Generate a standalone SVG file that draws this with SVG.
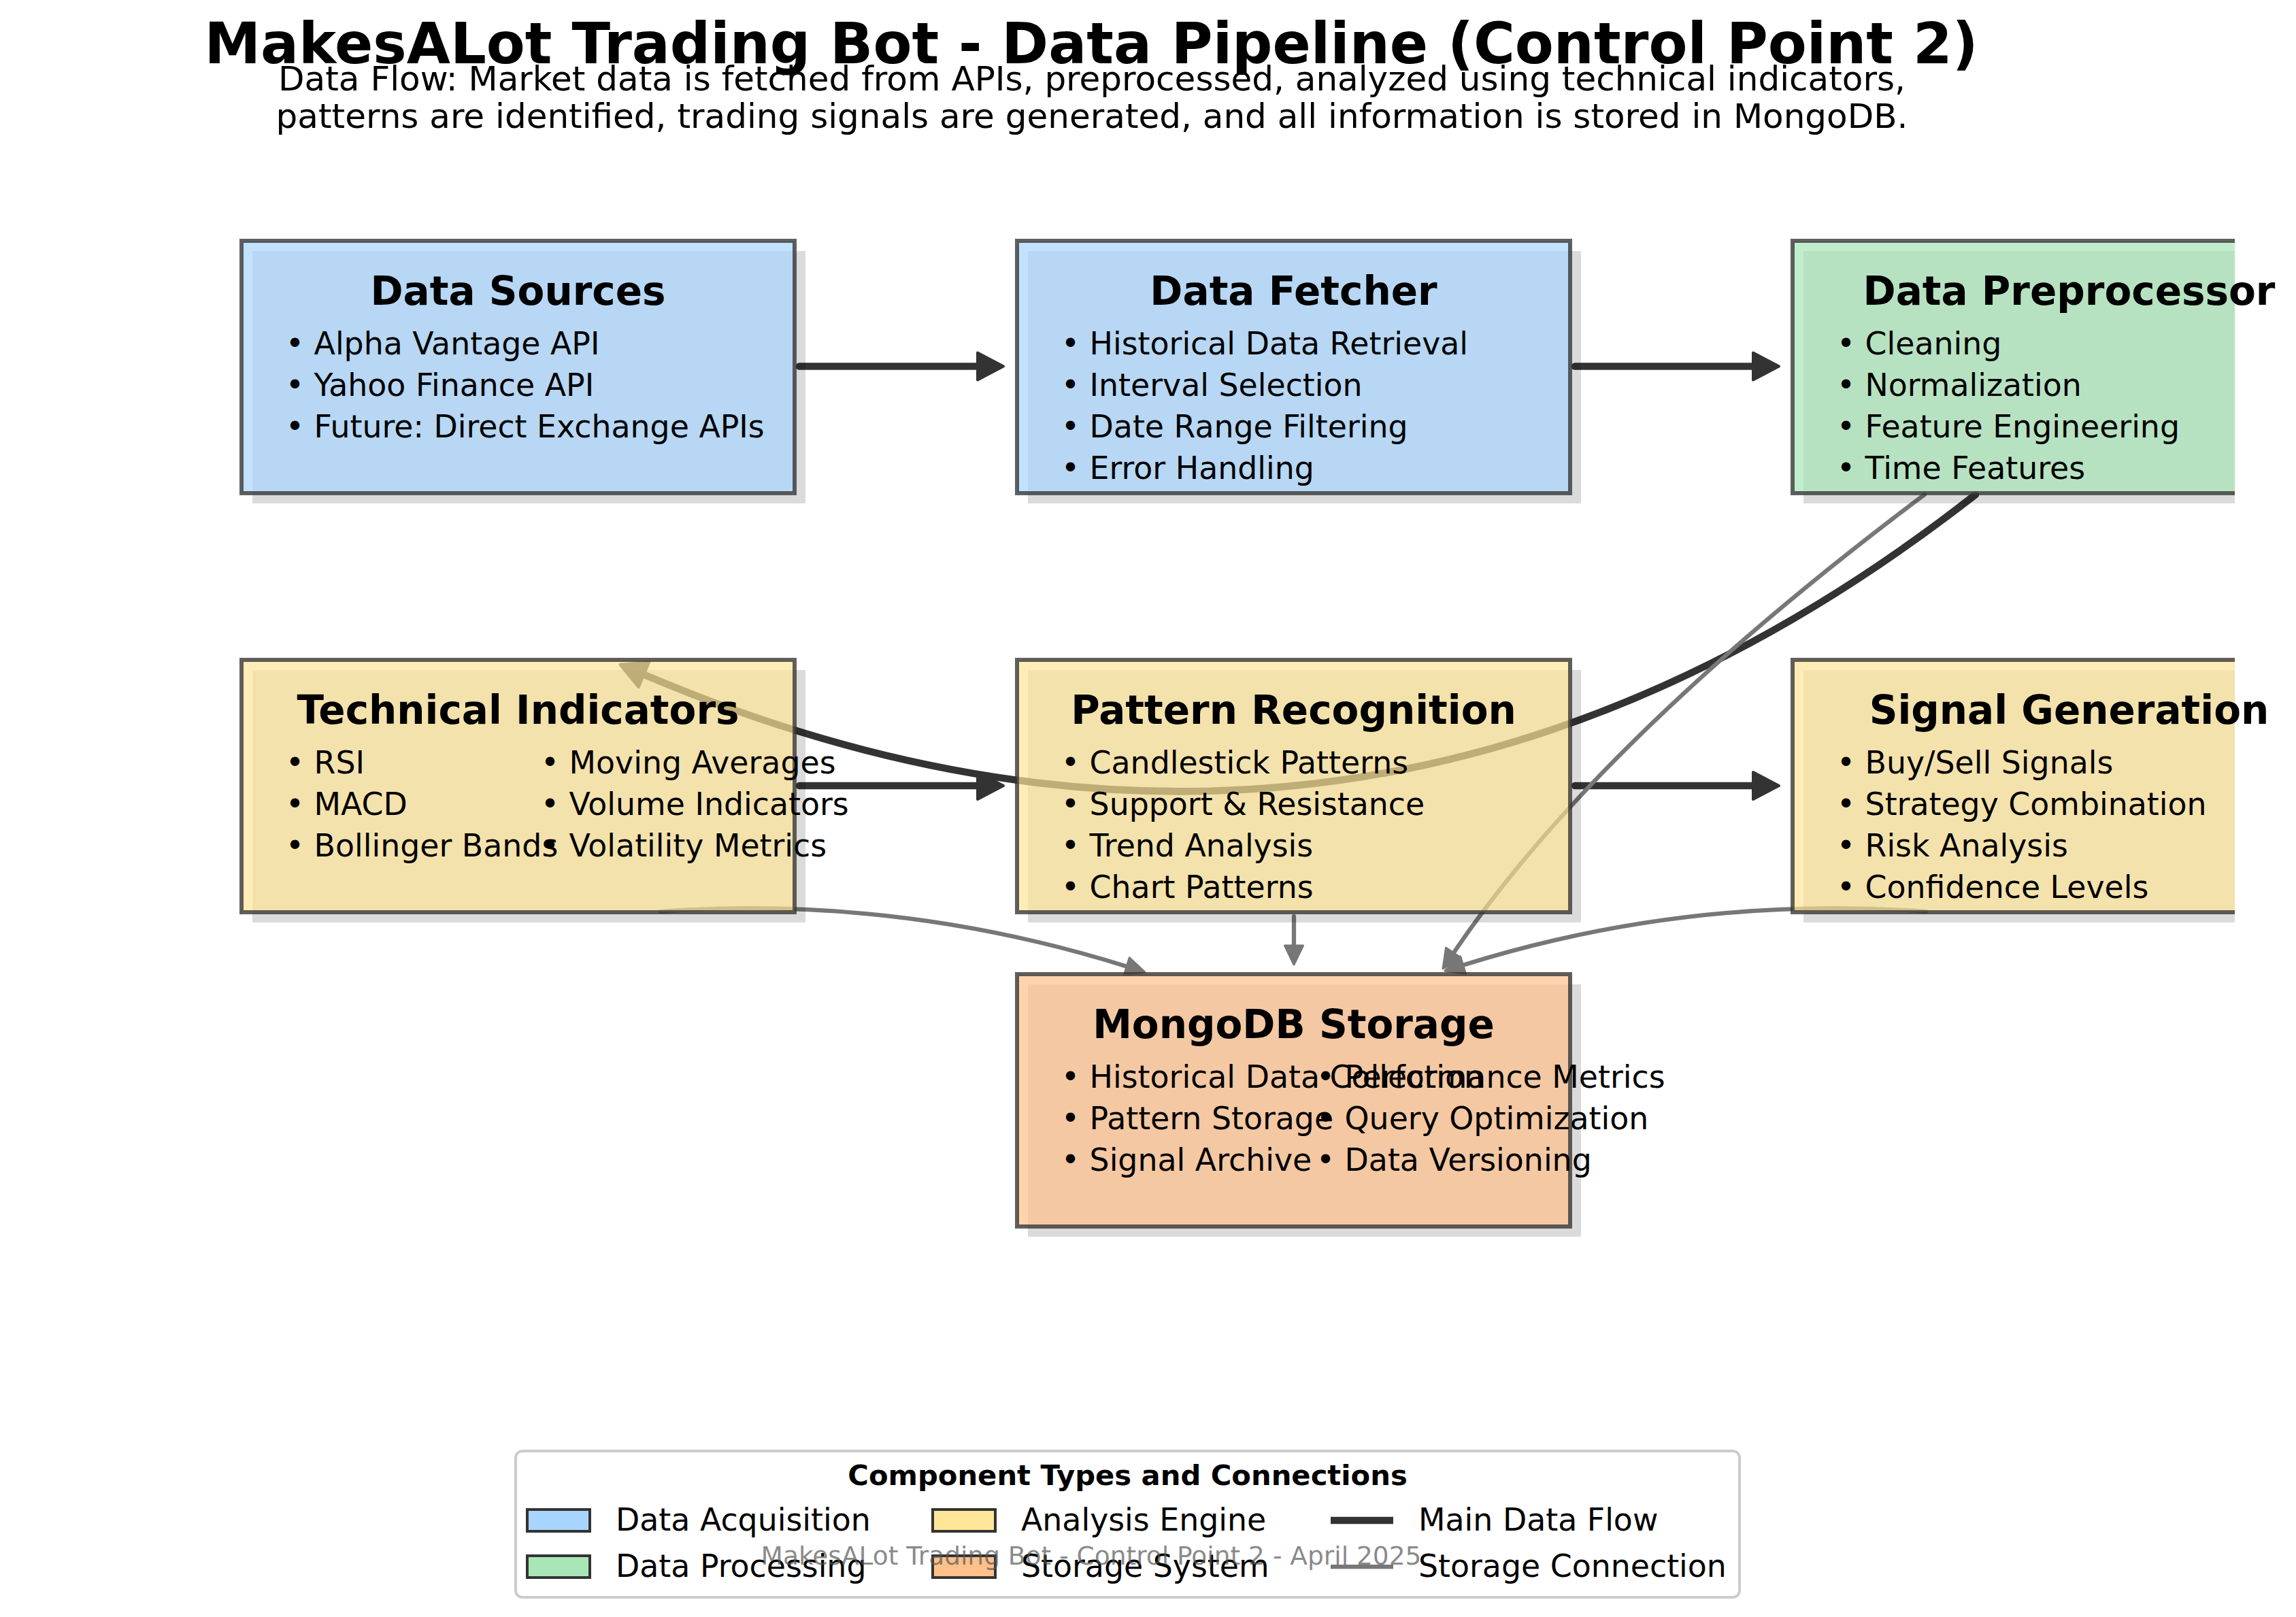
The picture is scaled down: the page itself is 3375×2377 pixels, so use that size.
<svg xmlns="http://www.w3.org/2000/svg" width="3375" height="2377" viewBox="0 0 3375 2377">
<defs>
<style>
text{font-family:"DejaVu Sans","Liberation Sans",sans-serif;fill:#000}
.title{font-size:83px;font-weight:bold;text-anchor:middle}
.sub{font-size:50px;text-anchor:middle}
.ttl{font-size:58px;font-weight:bold;text-anchor:middle}
.item{font-size:45.8px}
.shadow{fill:#000;fill-opacity:0.14}
.box{stroke:#333;stroke-opacity:0.78;stroke-width:6;fill-opacity:0.7}
.acq{fill:#A8D5FF}
.proc{fill:#A8E6B8}
.ana{fill:#FFE699}
.sto{fill:#FFC08A}
.main{stroke:#333;stroke-width:10.5;fill:none;stroke-linecap:round}
.store{stroke:#777;stroke-width:6.25;fill:none;stroke-linecap:round}
.lgt{font-size:41.7px;font-weight:bold;text-anchor:middle}
.lg{font-size:45.8px}
.sw{stroke:#333;stroke-width:4}
.foot{font-size:37.5px;text-anchor:middle;fill:#555;fill-opacity:0.7}
</style>
<marker id="mh" markerUnits="userSpaceOnUse" markerWidth="60" markerHeight="60" viewBox="-5 -30 60 60" refX="0" refY="0" orient="auto" overflow="visible">
<path d="M0,-20 L38,0 L0,20 Z" fill="#333" stroke="#333" stroke-width="4" stroke-linejoin="round"/>
</marker>
<marker id="sh" markerUnits="userSpaceOnUse" markerWidth="50" markerHeight="50" viewBox="-5 -25 50 50" refX="0" refY="0" orient="auto" overflow="visible">
<path d="M0,-13.5 L28,0 L0,13.5 Z" fill="#777" stroke="#777" stroke-width="3" stroke-linejoin="round"/>
</marker>
<clipPath id="axclip"><rect x="0" y="0" width="3285" height="2377"/></clipPath>
</defs>
<rect x="0" y="0" width="3375" height="2377" fill="#fff"/>

<text class="title" x="1604" y="93">MakesALot Trading Bot - Data Pipeline (Control Point 2)</text>
<text class="sub" x="1605" y="133">Data Flow: Market data is fetched from APIs, preprocessed, analyzed using technical indicators,</text>
<text class="sub" x="1605" y="188">patterns are identified, trading signals are generated, and all information is stored in MongoDB.</text>

<g id="connectors">
<path class="main" d="M1175,538.5 L1437,538.5" marker-end="url(#mh)"/>
<path class="main" d="M2315,538.5 L2577,538.5" marker-end="url(#mh)"/>
<path class="main" d="M2904,727 Q1996.6,1437 946.5,991.7" marker-end="url(#mh)"/>
<path class="main" d="M1175,1155 L1437,1155" marker-end="url(#mh)"/>
<path class="main" d="M2315,1155 L2577,1155" marker-end="url(#mh)"/>
<path class="store" d="M971,1340 Q1319.1,1315.1 1656.2,1420.7" marker-end="url(#sh)"/>
<path class="store" d="M1902,1347 L1902,1390" marker-end="url(#sh)"/>
<path class="store" d="M2829,727 Q2348.4,1087.4 2136.7,1400.7" marker-end="url(#sh)"/>
<path class="store" d="M2831,1340 Q2483,1315.1 2150.6,1418.8" marker-end="url(#sh)"/>
</g>

<g id="data-sources">
<rect class="shadow" x="371" y="369" width="813" height="371"/>
<rect class="box acq" x="355" y="354" width="813" height="371"/>
<text class="ttl" x="761.5" y="448">Data Sources</text>
<text class="item" x="420" y="521">• Alpha Vantage API</text>
<text class="item" x="420" y="582">• Yahoo Finance API</text>
<text class="item" x="420" y="643">• Future: Direct Exchange APIs</text>
</g>

<g id="data-fetcher">
<rect class="shadow" x="1511" y="369" width="813" height="371"/>
<rect class="box acq" x="1495" y="354" width="813" height="371"/>
<text class="ttl" x="1901.5" y="448">Data Fetcher</text>
<text class="item" x="1560" y="521">• Historical Data Retrieval</text>
<text class="item" x="1560" y="582">• Interval Selection</text>
<text class="item" x="1560" y="643">• Date Range Filtering</text>
<text class="item" x="1560" y="704">• Error Handling</text>
</g>

<g id="data-preprocessor">
<g clip-path="url(#axclip)">
<rect class="shadow" x="2651" y="369" width="813" height="371"/>
<rect class="box proc" x="2635" y="354" width="813" height="371"/>
</g>
<text class="ttl" x="3041.5" y="448">Data Preprocessor</text>
<text class="item" x="2700" y="521">• Cleaning</text>
<text class="item" x="2700" y="582">• Normalization</text>
<text class="item" x="2700" y="643">• Feature Engineering</text>
<text class="item" x="2700" y="704">• Time Features</text>
</g>

<g id="technical-indicators">
<rect class="shadow" x="371" y="985" width="813" height="371"/>
<rect class="box ana" x="355" y="970" width="813" height="371"/>
<text class="ttl" x="761.5" y="1064">Technical Indicators</text>
<text class="item" x="420" y="1137">• RSI</text>
<text class="item" x="420" y="1198">• MACD</text>
<text class="item" x="420" y="1259">• Bollinger Bands</text>
<text class="item" x="795" y="1137">• Moving Averages</text>
<text class="item" x="795" y="1198">• Volume Indicators</text>
<text class="item" x="795" y="1259">• Volatility Metrics</text>
</g>

<g id="pattern-recognition">
<rect class="shadow" x="1511" y="985" width="813" height="371"/>
<rect class="box ana" x="1495" y="970" width="813" height="371"/>
<text class="ttl" x="1901.5" y="1064">Pattern Recognition</text>
<text class="item" x="1560" y="1137">• Candlestick Patterns</text>
<text class="item" x="1560" y="1198">• Support &amp; Resistance</text>
<text class="item" x="1560" y="1259">• Trend Analysis</text>
<text class="item" x="1560" y="1320">• Chart Patterns</text>
</g>

<g id="signal-generation">
<g clip-path="url(#axclip)">
<rect class="shadow" x="2651" y="985" width="813" height="371"/>
<rect class="box ana" x="2635" y="970" width="813" height="371"/>
</g>
<text class="ttl" x="3041.5" y="1064">Signal Generation</text>
<text class="item" x="2700" y="1137">• Buy/Sell Signals</text>
<text class="item" x="2700" y="1198">• Strategy Combination</text>
<text class="item" x="2700" y="1259">• Risk Analysis</text>
<text class="item" x="2700" y="1320">• Confidence Levels</text>
</g>

<g id="mongodb-storage">
<rect class="shadow" x="1511" y="1447" width="813" height="371"/>
<rect class="box sto" x="1495" y="1432" width="813" height="371"/>
<text class="ttl" x="1901.5" y="1526">MongoDB Storage</text>
<text class="item" x="1560" y="1599">• Historical Data Collection</text>
<text class="item" x="1560" y="1660">• Pattern Storage</text>
<text class="item" x="1560" y="1721">• Signal Archive</text>
<text class="item" x="1935" y="1599">• Performance Metrics</text>
<text class="item" x="1935" y="1660">• Query Optimization</text>
<text class="item" x="1935" y="1721">• Data Versioning</text>
</g>

<g id="legend">
<rect x="758" y="2133" width="1799" height="215" rx="10" fill="#fff" fill-opacity="0.8" stroke="#cccccc" stroke-width="4"/>
<text class="lgt" x="1657.5" y="2183">Component Types and Connections</text>
<rect class="sw" x="775" y="2219" width="92" height="32" fill="#A8D5FF"/>
<text class="lg" x="905" y="2250">Data Acquisition</text>
<rect class="sw" x="775" y="2287" width="92" height="32" fill="#A8E6B8"/>
<text class="lg" x="905" y="2318">Data Processing</text>
<rect class="sw" x="1371" y="2219" width="92" height="32" fill="#FFE699"/>
<text class="lg" x="1501" y="2250">Analysis Engine</text>
<rect class="sw" x="1371" y="2287" width="92" height="32" fill="#FFC08A"/>
<text class="lg" x="1501" y="2318">Storage System</text>
<line x1="1956" y1="2235" x2="2048" y2="2235" stroke="#333" stroke-width="10.5"/>
<text class="lg" x="2085" y="2250">Main Data Flow</text>
<line x1="1956" y1="2303" x2="2048" y2="2303" stroke="#777" stroke-width="6.25"/>
<text class="lg" x="2085" y="2318">Storage Connection</text>
</g>

<text class="foot" x="1604" y="2300">MakesALot Trading Bot - Control Point 2 - April 2025</text>
</svg>
